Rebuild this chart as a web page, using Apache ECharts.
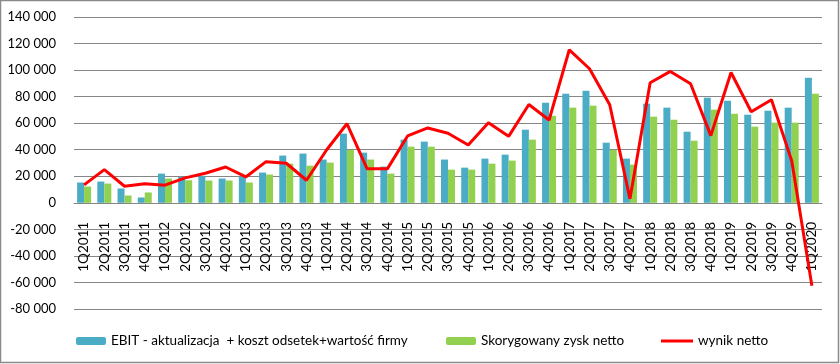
<!DOCTYPE html>
<html>
<head>
<meta charset="utf-8">
<script src="https://cdn.jsdelivr.net/npm/echarts@6/dist/echarts.min.js"></script>
<style>
html,body{margin:0;padding:0;background:#fff;}
#c{width:840px;height:364px;}
</style>
</head>
<body>
<div id="c"></div>
<script>
const categories = ["1Q2011","2Q2011","3Q2011","4Q2011","1Q2012","2Q2012","3Q2012","4Q2012","1Q2013","2Q2013","3Q2013","4Q2013","1Q2014","2Q2014","3Q2014","4Q2014","1Q2015","2Q2015","3Q2015","4Q2015","1Q2016","2Q2016","3Q2016","4Q2016","1Q2017","2Q2017","3Q2017","4Q2017","1Q2018","2Q2018","3Q2018","4Q2018","1Q2019","2Q2019","3Q2019","4Q2019","1Q2020"];
const ebit = [15300,16000,10800,4000,22000,19500,20300,18300,19800,22800,35600,37100,32600,52100,37800,27300,47600,46100,32600,26500,33300,36300,55100,75400,82200,84400,45300,33300,74700,71700,53600,79200,76900,66400,69400,71700,94200];
const adjusted = [12300,14500,5500,7800,18300,17000,16800,16800,15300,21300,29500,28000,30300,39800,32600,22000,42300,42300,25000,25000,29500,31800,47600,65600,71700,73200,39800,28800,64900,62600,46800,70200,67100,57400,60400,60400,82200];
const netResult = [13500,25000,12500,14300,13300,18800,22300,27000,19500,31000,29800,17000,40000,59600,25600,25600,50400,56400,52400,43600,60400,50100,74100,62400,115300,101000,73900,3000,90500,99000,89700,50600,98200,68600,77700,31800,-62500];
const seriesNames = ["EBIT - aktualizacja  + koszt odsetek+wartość firmy","Skorygowany zysk netto","wynik netto"];
const yMin = -80000, yMax = 140000, yStep = 20000;

const FONT = "Lato";
const chart = echarts.init(document.getElementById('c'), null, {renderer:'canvas'});
function fmt(v){
  const s = Math.abs(v).toString().replace(/\B(?=(\d{3})+(?!\d))/g,' ');
  return (v<0?'-':'') + s;
}
const legendText = {fontFamily:FONT,fontSize:13.5,color:'#000'};
chart.setOption({
  animation:false,
  textStyle:{fontFamily:FONT},
  graphic:[{type:'rect',shape:{x:0.5,y:0.5,width:838,height:362},style:{fill:'none',stroke:'#8a8a8a',lineWidth:1.5},silent:true}],
  grid:{left:74,right:18,top:17,bottom:55,containLabel:false,outerBoundsMode:'none'},
  legend:[
    {data:[seriesNames[0]],left:76,top:334,itemWidth:30,itemHeight:8,itemGap:0,textStyle:legendText,padding:0},
    {data:[seriesNames[1]],left:446,top:334,itemWidth:30,itemHeight:8,itemGap:0,textStyle:legendText,padding:0},
    {data:[{name:seriesNames[2],icon:'rect'}],left:661,top:334,itemWidth:32,itemHeight:3,itemGap:0,textStyle:legendText,padding:0}
  ],
  xAxis:{
    type:'category',data:categories,
    offset:-106.2,
    axisLine:{onZero:false,lineStyle:{color:'#868686',width:1}},
    axisTick:{show:false},
    axisLabel:{interval:0,rotate:90,fontFamily:FONT,fontSize:13.5,color:'#000',margin:19}
  },
  yAxis:{
    type:'value',min:yMin,max:yMax,interval:yStep,
    axisLine:{show:false},axisTick:{show:false},
    splitLine:{lineStyle:{color:'#868686',width:1}},
    axisLabel:{formatter:fmt,fontFamily:FONT,fontSize:13,color:'#000',margin:18}
  },
  series:[
    {name:seriesNames[0],type:'bar',data:ebit,barWidth:7,barGap:'0%',itemStyle:{color:'#4BACC6'}},
    {name:seriesNames[1],type:'bar',data:adjusted,barWidth:7,barGap:'0%',itemStyle:{color:'#92D050'}},
    {name:seriesNames[2],type:'line',data:netResult,symbol:'none',lineStyle:{color:'#FF0000',width:3},itemStyle:{color:'#FF0000'}}
  ]
});
</script>
</body>
</html>
